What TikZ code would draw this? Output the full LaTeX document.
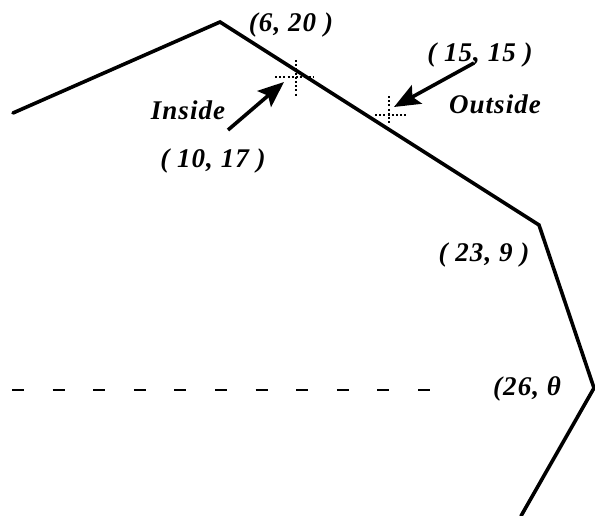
\documentclass[tikz,border=0pt]{standalone}
\usepackage{fontspec}
\setmainfont{Liberation Serif}
\newfontfamily\lblfont[LetterSpace=4]{Liberation Serif}
\usetikzlibrary{arrows.meta}
\begin{document}
\begin{tikzpicture}[x=1pt,y=-1pt,
  edge/.style={line width=3.6pt, line join=miter, line cap=round},
  lbl/.style={font=\lblfont\fontsize{27}{29}\selectfont\bfseries\itshape, inner sep=0pt},
  pointer/.style={line width=3.6pt, -{Stealth[length=26pt,width=21pt,inset=5pt]}},
  crosshair/.style={line width=2pt, dash pattern=on 2pt off 2.2pt},
  axis/.style={line width=1.4pt, dash pattern=on 12pt off 28.6pt}]
\useasboundingbox (0,0) rectangle (595,516);
% polygon vertices
\coordinate (p0) at (13,113);
\coordinate (p1) at (220,22);
\coordinate (p2) at (539,225);
\coordinate (p3) at (594,388);
\coordinate (p4) at (521,516);
\draw[edge] (p0) -- (p1) -- (p2) -- (p3) -- (p4);
% dashed reference line
\coordinate (d0) at (12,390);
\coordinate (d1) at (437,390);
\draw[axis] (d0) -- (d1);
% crosshairs
\coordinate (ci) at (296,77);
\coordinate (ciT) at (296,60);
\coordinate (ciB) at (296,96);
\coordinate (ciL) at (275,77);
\coordinate (ciR) at (313,77);
\draw[crosshair] (ciT) -- (ciB);
\draw[crosshair] (ciL) -- (ciR);
\coordinate (co) at (389,115);
\coordinate (coT) at (389,96);
\coordinate (coB) at (389,124);
\coordinate (coL) at (375,115);
\coordinate (coR) at (408,115);
\draw[crosshair] (coT) -- (coB);
\draw[crosshair] (coL) -- (coR);
% arrows
\coordinate (ai0) at (228,130);
\coordinate (ai1) at (284,82);
\draw[pointer] (ai0) -- (ai1);
\coordinate (ao0) at (474,63);
\coordinate (ao1) at (394,107);
\draw[pointer] (ao0) -- (ao1);
% labels
\node[lbl] (l620) at (291,25) {(6, 20 )};
\node[lbl] (lin) at (188,110) {Inside};
\node[lbl] (l1017) at (213,161) {( 10, 17 )};
\node[lbl] (l1515) at (480,55) {( 15, 15 )};
\node[lbl] (lout) at (495,104) {Outside};
\node[lbl] (l239) at (484,255) {( 23, 9 )};
\node[lbl, anchor=west] (l260) at (493,389) {(26, θ};
\end{tikzpicture}
\end{document}
